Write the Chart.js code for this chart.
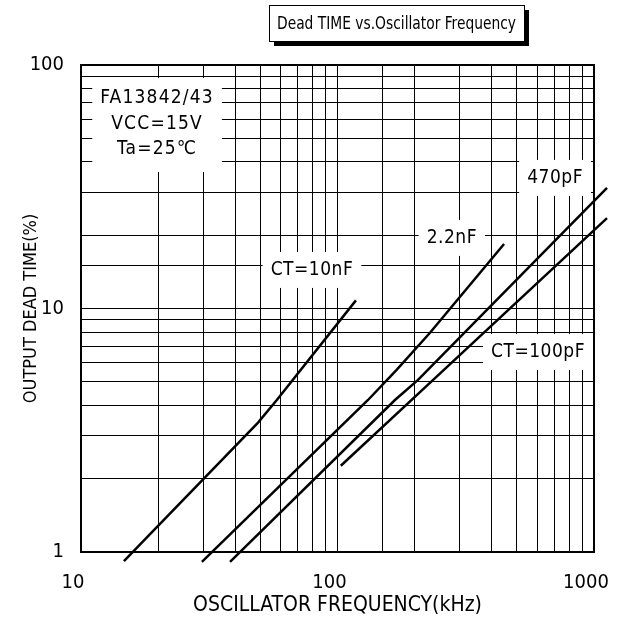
<!DOCTYPE html>
<html><head><meta charset="utf-8">
<script src="https://cdn.jsdelivr.net/npm/chart.js@4/dist/chart.umd.min.js"></script>
<style>html,body{margin:0;padding:0;background:#fff}</style>
</head><body><canvas id="c" width="619" height="621"></canvas>
<script>
const FONT = "'DejaVu Sans Condensed','Liberation Sans Narrow',sans-serif";
const chartTitle = 'Dead TIME vs.Oscillator Frequency';
const xAxisTitle = 'OSCILLATOR FREQUENCY(kHz)';
const yAxisTitle = 'OUTPUT DEAD TIME(%)';
const xTickLabels = [10, 100, 1000];
const yTickLabels = [1, 10, 100];
const seriesNames = ['CT=10nF', '2.2nF', '470pF', 'CT=100pF'];
// series values (kHz, %)
const freq10nF = [14.7, 49, 58, 118];
const dead10nF = [0.918, 3.4, 4.21, 10.8];
const freq2n2F = [29.6, 131.5, 170, 229, 446];
const dead2n2F = [0.91, 4.21, 5.6, 7.93, 18.4];
const freq470pF = [38.1, 167.5, 206, 1124];
const dead470pF = [0.91, 4.21, 5.09, 31.3];
const freq100pF = [103, 236, 1124];
const dead100pF = [2.26, 5.09, 23.5];
// curve label anchors (data coordinates)
const labelFreq = [79.5, 279, 705, 605];
const labelDead = [14.4, 19.5, 34.4, 6.63];
const infoLines = ['FA13842/43', 'VCC=15V', 'Ta=25℃'];
const infoFreq = 19.8;
const infoDead = [73.2, 57.3, 45.2];

function pts(xs, ys){ return xs.map((x,i)=>({x:x, y:ys[i]})); }
function near(v, arr){ return arr.find(t => Math.abs(v - t) < 1e-6); }

const decor = {
  id: 'decor',
  beforeDatasetsDraw(chart){
    const ctx = chart.ctx, xs = chart.scales.x, ys = chart.scales.y;
    ctx.save();
    ctx.fillStyle = '#fff';
    ctx.font = '19px ' + FONT;
    ctx.letterSpacing = '0.5px';
    seriesNames.forEach((t,i)=>{
      const w = ctx.measureText(t).width;
      const cx = xs.getPixelForValue(labelFreq[i]), cy = ys.getPixelForValue(labelDead[i]);
      ctx.fillRect(cx - w/2 - 8, cy - 18, w + 16, 36);
    });
    ctx.letterSpacing = '1.2px';
    let mw = 0; infoLines.forEach(t => mw = Math.max(mw, ctx.measureText(t).width));
    const ix = xs.getPixelForValue(infoFreq);
    const iy0 = ys.getPixelForValue(infoDead[0]), iy1 = ys.getPixelForValue(infoDead[2]);
    ctx.fillRect(ix - mw/2 - 8, iy0 - 20, mw + 16, iy1 - iy0 + 43);
    ctx.restore();
  },
  afterDatasetsDraw(chart){
    const ctx = chart.ctx, xs = chart.scales.x, ys = chart.scales.y, a = chart.chartArea;
    ctx.save();
    ctx.strokeStyle = '#000'; ctx.lineWidth = 2;
    ctx.strokeRect(a.left, a.top, a.right - a.left, a.bottom - a.top);
    ctx.fillStyle = '#000';
    ctx.font = '19px ' + FONT;
    ctx.textAlign = 'center'; ctx.textBaseline = 'middle';
    ctx.letterSpacing = '0.5px';
    seriesNames.forEach((t,i)=>{
      ctx.fillText(t, xs.getPixelForValue(labelFreq[i]), ys.getPixelForValue(labelDead[i]));
    });
    ctx.letterSpacing = '1.2px';
    const ix = xs.getPixelForValue(infoFreq);
    infoLines.forEach((t,i)=> ctx.fillText(t, ix, ys.getPixelForValue(infoDead[i])));
    ctx.letterSpacing = '0px';
    // title box with shadow
    const bx = 269, by = 5, bw = 255, bh = 36;
    ctx.fillStyle = '#000';
    ctx.fillRect(bx + 5, by + 5, bw, bh);
    ctx.fillStyle = '#fff';
    ctx.fillRect(bx, by, bw, bh);
    ctx.lineWidth = 1;
    ctx.strokeRect(bx + 0.5, by + 0.5, bw, bh);
    ctx.fillStyle = '#000';
    ctx.font = '18px ' + FONT;
    const tw = ctx.measureText(chartTitle).width;
    const sx = 239 / tw;
    ctx.translate(bx + bw/2, by + bh/2 + 1);
    ctx.scale(sx, 1);
    ctx.fillText(chartTitle, 0, 0);
    ctx.restore();
  }
};

const lineStyle = {borderColor:'#000', borderWidth:2.5, pointRadius:0, tension:0, clip:false, fill:false};

new Chart(document.getElementById('c'), {
  type: 'line',
  data: { datasets: [
    Object.assign({label: seriesNames[0], data: pts(freq10nF, dead10nF)}, lineStyle),
    Object.assign({label: seriesNames[1], data: pts(freq2n2F, dead2n2F)}, lineStyle),
    Object.assign({label: seriesNames[2], data: pts(freq470pF, dead470pF)}, lineStyle),
    Object.assign({label: seriesNames[3], data: pts(freq100pF, dead100pF)}, lineStyle)
  ]},
  options: {
    responsive: false, animation: false,
    layout: {padding: {top: 65, right: 25, left: 0, bottom: 0}},
    plugins: {legend: {display: false}, tooltip: {enabled: false}, title: {display: false}},
    scales: {
      x: {
        type: 'logarithmic', min: 10, max: 1000,
        afterFit(s){ s.height = 69; s.paddingLeft = 0; s.paddingRight = 0; },
        grid: {color: '#000', lineWidth: 1, drawTicks: false},
        border: {display: false},
        ticks: {autoSkip: false, maxRotation: 0, padding: 19, labelOffset: -8, color: '#000',
          font: {family: FONT, size: 20},
          callback(v){ const t = near(v, xTickLabels); return t !== undefined ? String(t) : ''; }},
        title: {display: true, text: xAxisTitle, color: '#000', font: {family: FONT, size: 21}, padding: {top: 0, bottom: 3}}
      },
      y: {
        type: 'logarithmic', min: 1, max: 100,
        afterFit(s){ s.width = 81; s.paddingTop = 0; s.paddingBottom = 0; },
        grid: {color: '#000', lineWidth: 1, drawTicks: false},
        border: {display: false},
        ticks: {autoSkip: false, padding: 17, color: '#000',
          font: {family: FONT, size: 20},
          callback(v){ const t = near(v, yTickLabels); return t !== undefined ? String(t) : ''; }},
        title: {display: true, text: yAxisTitle, color: '#000', font: {family: FONT, size: 18}, padding: {top: 21, bottom: 0}}
      }
    }
  },
  plugins: [decor]
});
</script></body></html>
